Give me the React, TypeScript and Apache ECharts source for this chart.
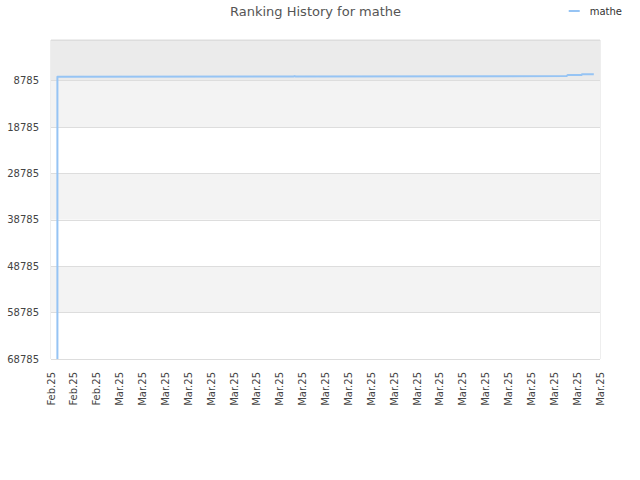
import { useEffect, useRef } from "react";
import * as echarts from "echarts";

// tick labels along the bottom, one per tick
const xLabels = [
  "Feb.25", "Feb.25", "Feb.25",
  "Mar.25", "Mar.25", "Mar.25", "Mar.25", "Mar.25", "Mar.25", "Mar.25", "Mar.25",
  "Mar.25", "Mar.25", "Mar.25", "Mar.25", "Mar.25", "Mar.25", "Mar.25", "Mar.25",
  "Mar.25", "Mar.25", "Mar.25", "Mar.25", "Mar.25", "Mar.25",
];

// ranking history of "mathe" (x in tick units, y = rank)
const seriesName = "mathe";
const pointX = [0.28, 0.28, 10.6, 10.65, 10.7, 22.54, 22.59, 23.2, 23.21, 23.73];
const pointRank = [68785, 7930, 7880, 7790, 7880, 7790, 7530, 7530, 7380, 7380];

// rank axis: ticks at 8785, 18785 ... 68785, top of plot is rank 1
const rankMin = 1;
const rankMax = 68785;
const rankShift = 1215; // shifts the ticks onto round numbers

export default function App(): JSX.Element {
  const chartRef = useRef<HTMLDivElement>(null);

  useEffect(() => {
    document.body.style.margin = "0";
    const chart = echarts.init(chartRef.current, null, { renderer: "svg" });
    const font = "DejaVu Sans";
    const data = pointX.map((x, i) => [x, pointRank[i] + rankShift]);

    chart.setOption({
      animation: false,
      backgroundColor: "#ffffff",
      textStyle: { fontFamily: font },
      title: {
        text: "Ranking History for mathe",
        left: 230,
        top: 5,
        padding: 0,
        textStyle: { fontFamily: font, fontSize: 13, fontWeight: "normal", color: "#555555" },
      },
      legend: {
        right: 18,
        top: 6,
        padding: 0,
        itemWidth: 11,
        itemHeight: 2,
        data: [{ name: seriesName, icon: "rect" }],
        textStyle: { fontFamily: font, fontSize: 10, color: "#333333", padding: [0, 0, 0, 5] },
      },
      grid: {
        left: 51,
        top: 40,
        width: 549,
        height: 319,
        show: true,
        borderColor: "#dddddd",
        borderWidth: 1,
        backgroundColor: "transparent",
      },
      xAxis: {
        type: "value",
        min: 0,
        max: xLabels.length - 1,
        interval: 1,
        axisLine: { show: false },
        axisTick: { show: false },
        splitLine: { show: false },
        axisLabel: {
          rotate: 90,
          margin: 13,
          fontFamily: font,
          fontSize: 10,
          color: "#444444",
          formatter: (v: number) => xLabels[Math.round(v)] ?? "",
        },
      },
      yAxis: {
        type: "value",
        inverse: true,
        min: rankMin + rankShift,
        max: rankMax + rankShift,
        splitNumber: 6,
        axisLine: { show: false },
        axisTick: { show: false },
        axisLabel: {
          margin: 12,
          fontFamily: font,
          fontSize: 10,
          color: "#444444",
          formatter: (v: number) => (v % 10000 === 0 ? String(v - rankShift) : ""),
        },
        splitLine: { show: true, lineStyle: { color: "#dddddd", width: 1 } },
        splitArea: {
          show: true,
          areaStyle: {
            color: ["#ebebeb", "#f3f3f3", "#ffffff", "#f3f3f3", "#ffffff", "#f3f3f3", "#ffffff"],
          },
        },
      },
      series: [
        {
          name: seriesName,
          type: "line",
          data,
          showSymbol: false,
          clip: true,
          color: "#96c4f4",
          lineStyle: { color: "#96c4f4", width: 2, join: "round" },
        },
      ],
    });

    return () => {
      chart.dispose();
    };
  }, []);

  return <div ref={chartRef} style={{ width: 640, height: 480 }}></div>;
}
